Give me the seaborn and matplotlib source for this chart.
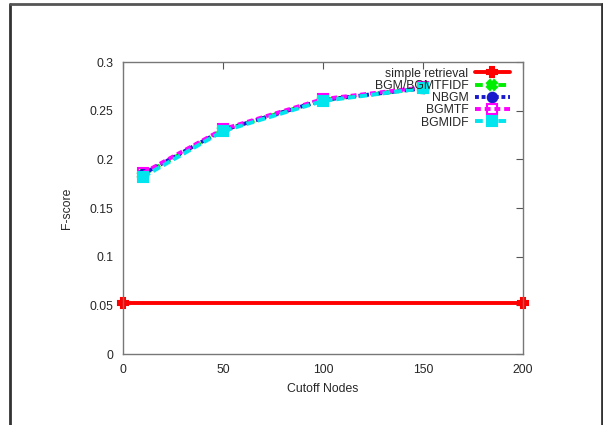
import pandas as pd
import numpy as np
import matplotlib.pyplot as plt
import seaborn as sns
from matplotlib.lines import Line2D

# values
cutoff = [10, 50, 100, 150]
baseline_x = [0, 200]
simple_retrieval = [0.052, 0.052]
bgm_bgmtfidf = [0.184, 0.230, 0.261, 0.273]
nbgm = [0.185, 0.230, 0.261, 0.273]
bgmtf = [0.186, 0.231, 0.262, 0.274]
bgmidf = [0.182, 0.229, 0.260, 0.273]

x_ticks = [0, 50, 100, 150, 200]
y_ticks = [0, 0.05, 0.1, 0.15, 0.2, 0.25, 0.3]
y_labels = ['0', '0.05', '0.1', '0.15', '0.2', '0.25', '0.3']

sns.set_style('white')
plt.rcParams['font.family'] = ['Liberation Sans', 'DejaVu Sans']
fs = 8.8

fig = plt.figure(figsize=(6.03, 4.25), dpi=100)
ax = fig.add_axes([0.204, 0.167, 0.663, 0.687])

series = [
    ('simple retrieval', baseline_x, simple_retrieval, '#ff0000', 'P', None, 'full'),
    ('BGM/BGMTFIDF', cutoff, bgm_bgmtfidf, '#00ee00', 'X', (2, 1), 'full'),
    ('NBGM', cutoff, nbgm, '#1a1acc', 'o', (1, 0.7), 'full'),
    ('BGMTF', cutoff, bgmtf, '#ff00ff', 's', (1.5, 1), 'none'),
    ('BGMIDF', cutoff, bgmidf, '#00e5ee', 's', (2, 1), 'full'),
]

handles = []
for name, xs, ys, col, mk, dash, fill in series:
    df = pd.DataFrame({'x': xs, 'y': ys})
    kw = dict(color=col, linewidth=2.8, marker=mk, markersize=6.8,
              markeredgewidth=1.5, fillstyle=fill, markeredgecolor=col)
    sns.lineplot(data=df, x='x', y='y', ax=ax, clip_on=False, **kw)
    h = Line2D([], [], **kw)
    if dash is not None:
        ax.lines[-1].set_dashes(dash)
        h.set_dashes(dash)
    handles.append((h, name))

ax.set_xlim(0, 200)
ax.set_ylim(0, 0.3)
ax.set_xticks(x_ticks)
ax.set_yticks(y_ticks)
ax.set_yticklabels(y_labels)
ax.set_xlabel('Cutoff Nodes', fontsize=fs, labelpad=5)
ax.set_ylabel('F-score', fontsize=fs, labelpad=12)
ax.tick_params(direction='in', length=5, width=0.8, color='#555555',
               top=True, right=True, labelsize=fs, pad=7)
for s in ax.spines.values():
    s.set_color('#777777')
    s.set_linewidth(1)

leg = ax.legend([h for h, _ in handles], [n for _, n in handles],
                loc='upper right', bbox_to_anchor=(0.9675, 0.981), frameon=False,
                markerfirst=False, fontsize=fs, handlelength=2.85,
                labelspacing=0.02, handletextpad=0.55, borderpad=0.0,
                borderaxespad=0.0)
for t in leg.get_texts():
    t.set_ha('right')

# outer frame of the page
fig.add_artist(Line2D([9.5 / 603, 9.5 / 603], [0, 1 - 3.5 / 425], color='#333333', lw=2, transform=fig.transFigure))
fig.add_artist(Line2D([9.5 / 603, 601.5 / 603], [1 - 3.5 / 425, 1 - 3.5 / 425], color='#555555', lw=2, transform=fig.transFigure))
fig.add_artist(Line2D([601.5 / 603, 601.5 / 603], [0, 1 - 3.5 / 425], color='#333333', lw=2, transform=fig.transFigure))

fig.savefig('out.png', dpi=100)
